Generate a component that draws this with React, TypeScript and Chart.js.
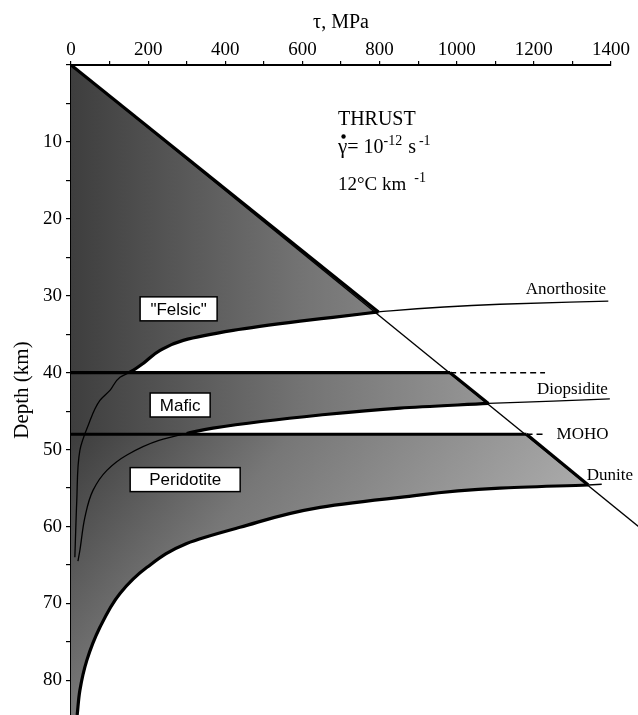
import React, { useEffect, useRef } from "react";
import { Chart, registerables } from "chart.js";

Chart.register(...registerables);

// ---------- data (τ in MPa, depth in km) ----------
const tauTicks = [0, 200, 400, 600, 800, 1000, 1200, 1400];
const depthTicks = [10, 20, 30, 40, 50, 60, 70, 80];

// frictional line for thrust faulting
const frictionTau = [0, 1474];
const frictionDepth = [0, 60.1];

// frictional parts of each layer's envelope (top of layer -> flow-law intersection)
const felsicFricTau = [0, 797];
const felsicFricDepth = [0, 32.1];
const maficFricTau = [983, 1082];
const maficFricDepth = [40, 44.0];
const periFricTau = [1181, 1341];
const periFricDepth = [48, 54.6];

// flow-law curves (whole visible length)
const anorthTau = [1393, 1112, 797, 679, 594, 420, 291, 231, 187, 161, 150, 127, 101, 75, 45, 23, 15, 10];
const anorthDepth = [30.7, 31.1, 32.1, 32.8, 33.3, 34.5, 35.8, 37.1, 38.8, 39.7, 40, 40.6, 42.3, 43.6, 46.8, 50.1, 56.6, 64];
const diopTau = [1397, 1250, 1082, 853, 646, 368, 300, 228, 145, 93, 57, 36, 23, 18];
const diopDepth = [43.4, 43.7, 44.0, 44.6, 45.5, 47.2, 47.9, 48.8, 50.7, 52.7, 55.3, 58.8, 63.1, 64.5];
const duniteTau = [1376, 1341, 1112, 853, 646, 438, 300, 197, 127, 75, 41, 23, 16];
const duniteDepth = [54.5, 54.6, 55.0, 56.2, 57.5, 60.1, 62.2, 65.3, 68.7, 73.1, 77.4, 81.3, 84.5];

// index range of each flow-law curve that bounds its layer
const anorthLayer = [2, 10];
const diopLayer = [2, 6];
const duniteLayer = [1, 12];

// layer boundaries
const boundaryDepths = [40, 48];
const boundarySolidEnd = [983, 1181];
const boundaryDashEnd = [1229, 1229];

// labels
const regionLabels = ['"Felsic"', "Mafic", "Peridotite"];
const regionLabelTau = [279, 283, 296];
const regionLabelDepth = [31.7, 44.2, 53.9];
const curveLabels = ["Anorthosite", "Diopsidite", "MOHO", "Dunite"];
const curveLabelTau = [1387, 1392, 1259, 1337];
const curveLabelDepth = [29.8, 42.8, 48, 54.0];

// ---------- styling ----------
const serif = '"Liberation Serif", "Times New Roman", serif';
const sans = '"Liberation Sans", Arial, sans-serif';

const zip = (t: number[], d: number[]) => t.map((v, i) => ({ x: v, y: d[i] }));
const sub = (t: number[], d: number[], r: number[]) => zip(t.slice(r[0], r[1] + 1), d.slice(r[0], r[1] + 1));

const shade = (c: any) => {
  const chart = c.chart;
  if (!chart.chartArea) return "#777";
  const xs = chart.scales.x;
  const g = chart.ctx.createLinearGradient(xs.getPixelForValue(0), 0, xs.getPixelForValue(1350), 0);
  g.addColorStop(0, "#3e3e3e");
  g.addColorStop(0.45, "#747474");
  g.addColorStop(1, "#a9a9a9");
  return g;
};

// peridotite: darkest in its upper-left corner, lighter to the right and downwards
const shadeDeep = (c: any) => {
  const chart = c.chart;
  if (!chart.chartArea) return "#777";
  const xs = chart.scales.x;
  const ys = chart.scales.y;
  const g = chart.ctx.createLinearGradient(
    xs.getPixelForValue(0),
    ys.getPixelForValue(49),
    xs.getPixelForValue(850),
    ys.getPixelForValue(83)
  );
  g.addColorStop(0, "#3e3e3e");
  g.addColorStop(0.4, "#777777");
  g.addColorStop(1, "#a9a9a9");
  return g;
};

const regionBoxW = [77, 60, 110];

const textPlugin = {
  id: "texts",
  afterDatasetsDraw(chart: any) {
    const { ctx } = chart;
    const xs = chart.scales.x;
    const ys = chart.scales.y;
    const X = (v: number) => xs.getPixelForValue(v);
    const Y = (v: number) => ys.getPixelForValue(v);
    ctx.save();

    // region boxes
    ctx.font = `17px ${sans}`;
    ctx.textAlign = "center";
    ctx.textBaseline = "middle";
    regionLabels.forEach((t, i) => {
      const cx = X(regionLabelTau[i]);
      const cy = Y(regionLabelDepth[i]);
      const w = regionBoxW[i];
      ctx.fillStyle = "#fff";
      ctx.fillRect(cx - w / 2, cy - 12, w, 24);
      ctx.strokeStyle = "#000";
      ctx.lineWidth = 1.5;
      ctx.strokeRect(cx - w / 2, cy - 12, w, 24);
      ctx.fillStyle = "#000";
      ctx.fillText(t, cx, cy + 1);
    });

    // curve labels
    ctx.font = `17px ${serif}`;
    ctx.fillStyle = "#000";
    curveLabels.forEach((t, i) => {
      const px = X(curveLabelTau[i]);
      const py = Y(curveLabelDepth[i]);
      if (t === "MOHO") {
        ctx.textAlign = "left";
        ctx.textBaseline = "middle";
      } else if (t === "Dunite") {
        ctx.textAlign = "left";
        ctx.textBaseline = "alphabetic";
      } else {
        ctx.textAlign = "right";
        ctx.textBaseline = "alphabetic";
      }
      ctx.fillText(t, px, py);
    });

    // THRUST block
    ctx.textAlign = "left";
    ctx.textBaseline = "alphabetic";
    const x0 = X(692);
    let b = Y(7.8);
    ctx.font = `20px ${serif}`;
    ctx.fillText("THRUST", x0, b);

    b = Y(11.5);
    let x = x0;
    ctx.font = `21px ${serif}`;
    const gw = ctx.measureText("γ").width;
    ctx.fillText("γ", x, b);
    ctx.beginPath();
    ctx.arc(x + gw / 2 + 1, b - 17, 2.2, 0, Math.PI * 2);
    ctx.fill();
    x += gw;
    ctx.font = `20px ${serif}`;
    ctx.fillText("= 10", x, b);
    x += ctx.measureText("= 10").width;
    ctx.font = `14px ${serif}`;
    ctx.fillText("-12", x, b - 8);
    x += ctx.measureText("-12").width + 6;
    ctx.font = `20px ${serif}`;
    ctx.fillText("s", x, b);
    x += ctx.measureText("s").width + 3;
    ctx.font = `14px ${serif}`;
    ctx.fillText("-1", x, b - 8);

    b = Y(16.3);
    x = x0;
    ctx.font = `19px ${serif}`;
    ctx.fillText("12°C km", x, b);
    x += ctx.measureText("12°C km").width + 8;
    ctx.font = `14px ${serif}`;
    ctx.fillText("-1", x, b - 8);

    ctx.restore();
  },
};

export default function App() {
  const ref = useRef<HTMLCanvasElement | null>(null);

  useEffect(() => {
    if (!ref.current) return;
    const thick = 3.2;
    const thin = 1.3;
    const lineDs = (data: any[], width: number, extra: any = {}) => ({
      data,
      borderColor: "#000",
      borderWidth: width,
      pointRadius: 0,
      fill: false,
      tension: 0,
      order: 0,
      ...extra,
    });
    const smooth = { cubicInterpolationMode: "monotone" };
    const fillDs = (data: any[], bg: any, extra: any = {}) => ({
      data,
      borderWidth: 0,
      borderColor: "rgba(0,0,0,0)",
      backgroundColor: bg,
      pointRadius: 0,
      fill: "origin",
      tension: 0,
      order: 10,
      ...extra,
    });

    // friction fills include the first flow-law point so both pieces overlap
    const fricFill = (t: number[], d: number[], ct: number[], cd: number[], r: number[]) =>
      zip(t, d).concat([{ x: ct[r[0] + 1], y: cd[r[0] + 1] }]);

    const datasets: any[] = [
      // fills
      fillDs(fricFill(felsicFricTau, felsicFricDepth, anorthTau, anorthDepth, anorthLayer), shade),
      fillDs(sub(anorthTau, anorthDepth, anorthLayer), shade, smooth),
      fillDs(fricFill(maficFricTau, maficFricDepth, diopTau, diopDepth, diopLayer), shade),
      fillDs(sub(diopTau, diopDepth, diopLayer), shade, smooth),
      fillDs(fricFill(periFricTau, periFricDepth, duniteTau, duniteDepth, duniteLayer), shadeDeep),
      fillDs(sub(duniteTau, duniteDepth, duniteLayer), shadeDeep, smooth),
      // thin full curves
      lineDs(zip(frictionTau, frictionDepth), thin, { clip: false }),
      lineDs(zip(anorthTau, anorthDepth), thin, { clip: false, ...smooth }),
      lineDs(zip(diopTau, diopDepth), thin, { clip: false, ...smooth }),
      lineDs(zip(duniteTau.slice(0, 2), duniteDepth.slice(0, 2)), thin, { clip: false }),
      // thick envelope edges
      lineDs(zip(felsicFricTau, felsicFricDepth), thick),
      lineDs(zip(maficFricTau, maficFricDepth), thick),
      lineDs(zip(periFricTau, periFricDepth), thick),
      lineDs(sub(anorthTau, anorthDepth, anorthLayer), thick, smooth),
      lineDs(sub(diopTau, diopDepth, diopLayer), thick, smooth),
      lineDs(sub(duniteTau, duniteDepth, duniteLayer), thick, smooth),
    ];
    boundaryDepths.forEach((d, i) => {
      datasets.push(lineDs([{ x: 0, y: d }, { x: boundarySolidEnd[i], y: d }], thick));
      datasets.push(
        lineDs([{ x: boundarySolidEnd[i], y: d }, { x: boundaryDashEnd[i], y: d }], 1.6, {
          borderDash: [6, 4],
          clip: false,
        })
      );
    });

    const chart = new Chart(ref.current, {
      type: "line",
      data: { datasets },
      plugins: [textPlugin],
      options: {
        responsive: false,
        animation: false,
        indexAxis: "y",
        layout: { padding: { left: 0, right: 27, top: 0, bottom: 0 } },
        plugins: { legend: { display: false }, tooltip: { enabled: false } },
        elements: { line: { borderCapStyle: "butt", borderJoinStyle: "miter" } },
        scales: {
          x: {
            type: "linear",
            position: "top",
            min: 0,
            max: 1400,
            afterFit: (s: any) => {
              s.height = 65;
              s.paddingLeft = 0;
              s.paddingRight = 0;
            },
            border: { color: "#000", width: 2 },
            grid: { drawOnChartArea: false, color: "#000", tickLength: 4, lineWidth: 1.2 },
            ticks: {
              stepSize: 100,
              autoSkip: false,
              maxRotation: 0,
              padding: 0,
              color: "#000",
              font: { family: serif, size: 19 },
              callback: (v: any) => (tauTicks.includes(Number(v)) ? String(v) : ""),
            },
            title: {
              display: true,
              text: "τ, MPa",
              color: "#000",
              font: { family: serif, size: 20 },
              padding: { top: 11, bottom: 0 },
            },
          },
          y: {
            type: "linear",
            reverse: true,
            min: 0,
            max: 84.5,
            afterFit: (s: any) => {
              s.width = 71;
              s.paddingTop = 0;
              s.paddingBottom = 0;
            },
            border: { color: "#000", width: 1.5 },
            grid: { drawOnChartArea: false, color: "#000", tickLength: 5, lineWidth: 1.2 },
            ticks: {
              stepSize: 5,
              includeBounds: false,
              autoSkip: false,
              padding: 4,
              color: "#000",
              font: { family: serif, size: 19 },
              callback: (v: any) => (depthTicks.includes(Number(v)) ? String(v) : ""),
            },
            title: {
              display: true,
              text: "Depth (km)",
              color: "#000",
              font: { family: serif, size: 21 },
              padding: { top: 10, bottom: 0 },
            },
          },
        },
      } as any,
    });
    return () => chart.destroy();
  }, []);

  return (
    <div style={{ position: "fixed", left: 0, top: 0, width: 638, height: 715, background: "#fff" }}>
      <canvas ref={ref} width={638} height={715} style={{ display: "block" }} />
    </div>
  );
}
